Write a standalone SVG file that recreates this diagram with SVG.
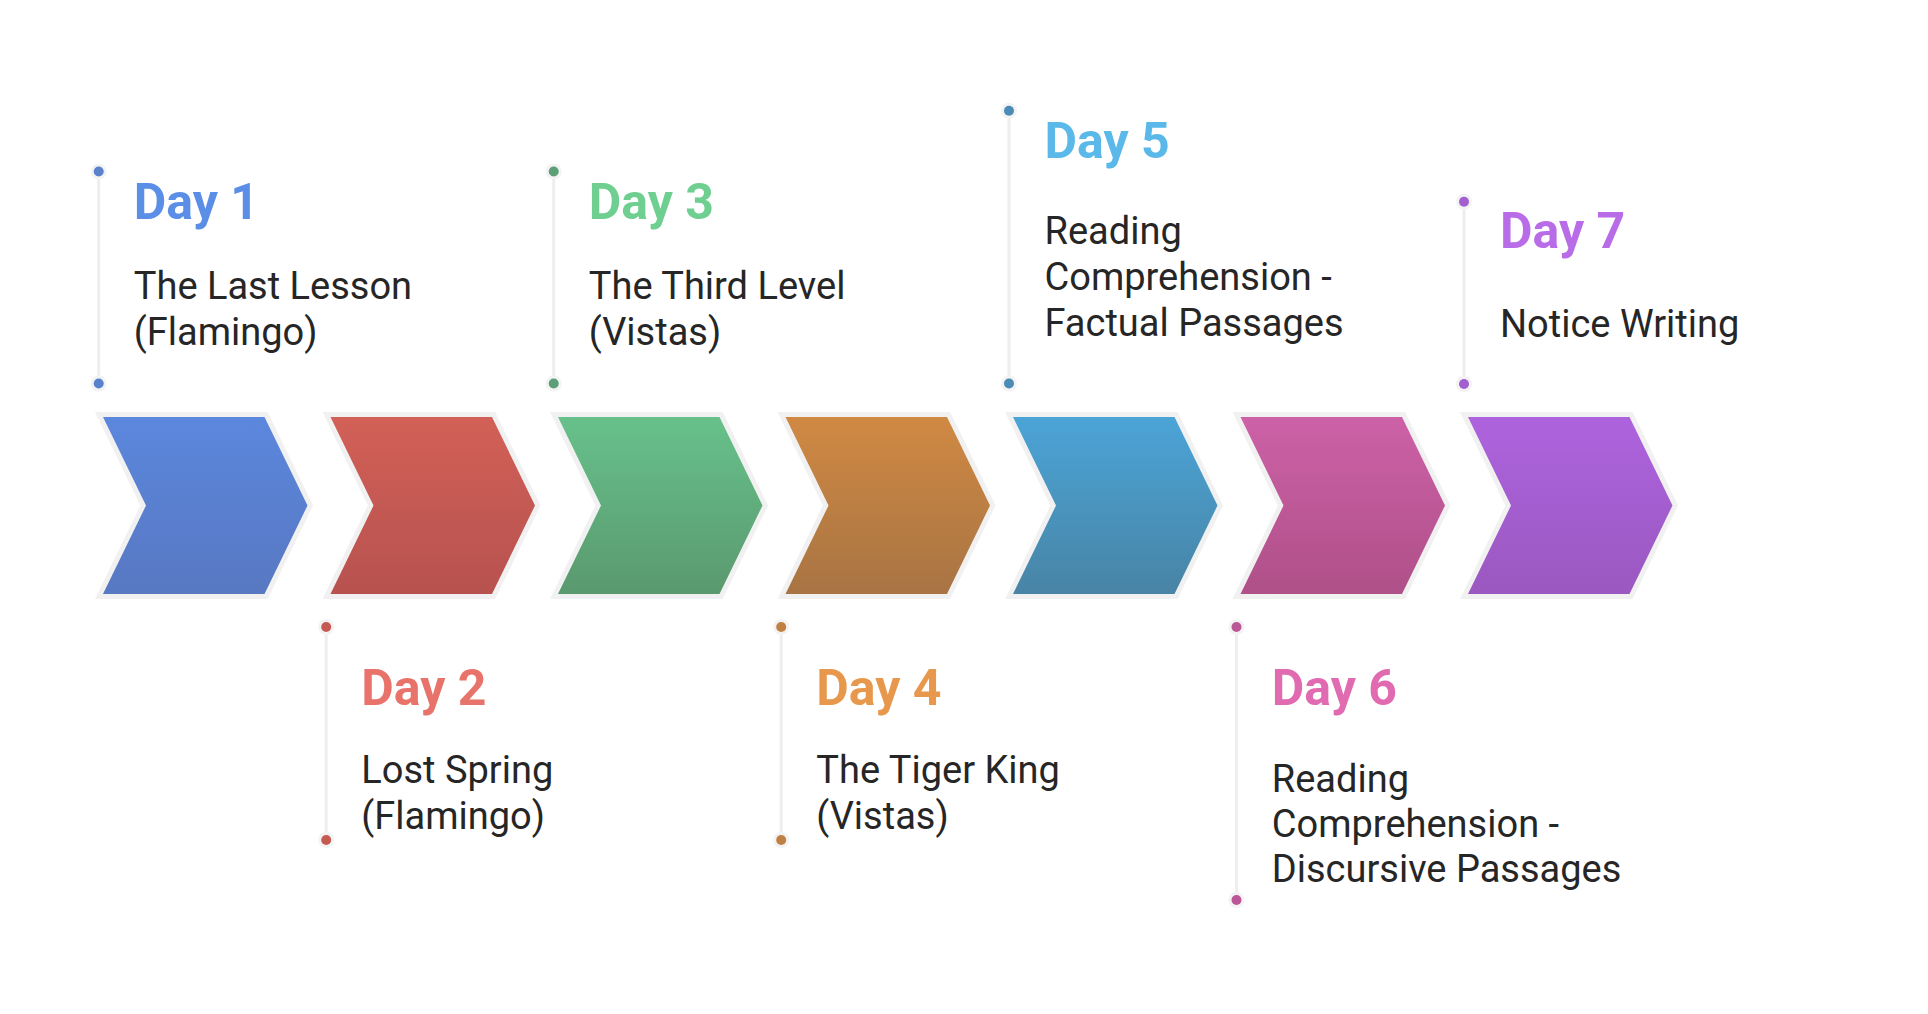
<svg xmlns="http://www.w3.org/2000/svg" width="1928" height="1014" viewBox="0 0 1928 1014">
  <defs>
    <style>
      .chev { stroke: #f1f1f1; stroke-width: 10; stroke-linejoin: miter; paint-order: stroke; }
      .vline { stroke: #eeeeee; stroke-width: 3; fill: none; }
      .halo { fill: #f3f3f3; }
      .head { font-family: Roboto, "Liberation Sans", sans-serif; font-weight: 700; font-size: 50px; }
      .body { font-family: Roboto, "Liberation Sans", sans-serif; font-weight: 400; font-size: 38px; fill: #262626; }
    </style>
    <linearGradient id="g1" x1="0" y1="0" x2="0" y2="1"><stop offset="0" stop-color="#5b87dd"/><stop offset="1" stop-color="#5878c2"/></linearGradient>
    <linearGradient id="g2" x1="0" y1="0" x2="0" y2="1"><stop offset="0" stop-color="#d26057"/><stop offset="1" stop-color="#b7524f"/></linearGradient>
    <linearGradient id="g3" x1="0" y1="0" x2="0" y2="1"><stop offset="0" stop-color="#67c18b"/><stop offset="1" stop-color="#5a996e"/></linearGradient>
    <linearGradient id="g4" x1="0" y1="0" x2="0" y2="1"><stop offset="0" stop-color="#d08943"/><stop offset="1" stop-color="#a87443"/></linearGradient>
    <linearGradient id="g5" x1="0" y1="0" x2="0" y2="1"><stop offset="0" stop-color="#4ba4d7"/><stop offset="1" stop-color="#4884a5"/></linearGradient>
    <linearGradient id="g6" x1="0" y1="0" x2="0" y2="1"><stop offset="0" stop-color="#cd61a7"/><stop offset="1" stop-color="#af5088"/></linearGradient>
    <linearGradient id="g7" x1="0" y1="0" x2="0" y2="1"><stop offset="0" stop-color="#ae63de"/><stop offset="1" stop-color="#9a58c0"/></linearGradient>
  </defs>
  <rect width="1928" height="1014" fill="#ffffff"/>

  <g id="connectors">
    <line class="vline" x1="98.7" y1="171.5" x2="98.7" y2="383.5"/>
    <line class="vline" x1="326.2" y1="627" x2="326.2" y2="840"/>
    <line class="vline" x1="553.7" y1="171.5" x2="553.7" y2="383.5"/>
    <line class="vline" x1="781.2" y1="627" x2="781.2" y2="840"/>
    <line class="vline" x1="1009" y1="110.7" x2="1009" y2="383.5"/>
    <line class="vline" x1="1236.5" y1="627" x2="1236.5" y2="900"/>
    <line class="vline" x1="1464" y1="201.7" x2="1464" y2="384"/>

    <circle class="halo" cx="98.7" cy="171.5" r="8"/><circle cx="98.7" cy="171.5" r="5" fill="#5a82cc"/>
    <circle class="halo" cx="98.7" cy="383.5" r="8"/><circle cx="98.7" cy="383.5" r="5" fill="#5a82cc"/>
    <circle class="halo" cx="326.2" cy="627" r="8"/><circle cx="326.2" cy="627" r="5" fill="#c55a53"/>
    <circle class="halo" cx="326.2" cy="840" r="8"/><circle cx="326.2" cy="840" r="5" fill="#c55a53"/>
    <circle class="halo" cx="553.7" cy="171.5" r="8"/><circle cx="553.7" cy="171.5" r="5" fill="#5c9e75"/>
    <circle class="halo" cx="553.7" cy="383.5" r="8"/><circle cx="553.7" cy="383.5" r="5" fill="#5c9e75"/>
    <circle class="halo" cx="781.2" cy="627" r="8"/><circle cx="781.2" cy="627" r="5" fill="#c18043"/>
    <circle class="halo" cx="781.2" cy="840" r="8"/><circle cx="781.2" cy="840" r="5" fill="#c18043"/>
    <circle class="halo" cx="1009" cy="110.7" r="8"/><circle cx="1009" cy="110.7" r="5" fill="#4a8cb6"/>
    <circle class="halo" cx="1009" cy="383.5" r="8"/><circle cx="1009" cy="383.5" r="5" fill="#4a8cb6"/>
    <circle class="halo" cx="1236.5" cy="627" r="8"/><circle cx="1236.5" cy="627" r="5" fill="#bb5797"/>
    <circle class="halo" cx="1236.5" cy="900" r="8"/><circle cx="1236.5" cy="900" r="5" fill="#bb5797"/>
    <circle class="halo" cx="1464" cy="201.7" r="8"/><circle cx="1464" cy="201.7" r="5" fill="#a35fcf"/>
    <circle class="halo" cx="1464" cy="384" r="8"/><circle cx="1464" cy="384" r="5" fill="#a35fcf"/>
  </g>

  <g id="day1">
    <polygon class="chev" fill="url(#g1)" points="103,417 264.5,417 307.5,505.5 264.5,594 103,594 146,505.5"/>
    <text class="head" x="133.8" y="219.3" fill="#5b8ee6">Day 1</text>
    <text class="body" x="133.8" y="299.3">The Last Lesson</text>
    <text class="body" x="133.8" y="345">(Flamingo)</text>
  </g>

  <g id="day2">
    <polygon class="chev" fill="url(#g2)" points="330.5,417 492,417 535,505.5 492,594 330.5,594 373.5,505.5"/>
    <text class="head" x="361.3" y="705" fill="#e8736a">Day 2</text>
    <text class="body" x="361.3" y="783">Lost Spring</text>
    <text class="body" x="361.3" y="829">(Flamingo)</text>
  </g>

  <g id="day3">
    <polygon class="chev" fill="url(#g3)" points="558,417 719.5,417 762.5,505.5 719.5,594 558,594 601,505.5"/>
    <text class="head" x="588.8" y="219.3" fill="#6fcf90">Day 3</text>
    <text class="body" x="588.8" y="299.3">The Third Level</text>
    <text class="body" x="588.8" y="345">(Vistas)</text>
  </g>

  <g id="day4">
    <polygon class="chev" fill="url(#g4)" points="785.5,417 947,417 990,505.5 947,594 785.5,594 828.5,505.5"/>
    <text class="head" x="816.3" y="705" fill="#e8984c">Day 4</text>
    <text class="body" x="816.3" y="783">The Tiger King</text>
    <text class="body" x="816.3" y="829">(Vistas)</text>
  </g>

  <g id="day5">
    <polygon class="chev" fill="url(#g5)" points="1013,417 1174.5,417 1217.5,505.5 1174.5,594 1013,594 1056,505.5"/>
    <text class="head" x="1044.5" y="158.3" fill="#5bb9ea">Day 5</text>
    <text class="body" x="1044.5" y="244">Reading</text>
    <text class="body" x="1044.5" y="290">Comprehension -</text>
    <text class="body" x="1044.5" y="335.5">Factual Passages</text>
  </g>

  <g id="day6">
    <polygon class="chev" fill="url(#g6)" points="1240.5,417 1402,417 1445,505.5 1402,594 1240.5,594 1283.5,505.5"/>
    <text class="head" x="1271.8" y="705" fill="#e06bb0">Day 6</text>
    <text class="body" x="1271.8" y="791.7">Reading</text>
    <text class="body" x="1271.8" y="836.7">Comprehension -</text>
    <text class="body" x="1271.8" y="881.7">Discursive Passages</text>
  </g>

  <g id="day7">
    <polygon class="chev" fill="url(#g7)" points="1468,417 1629.5,417 1672.5,505.5 1629.5,594 1468,594 1511,505.5"/>
    <text class="head" x="1500" y="248.3" fill="#b96ce8">Day 7</text>
    <text class="body" x="1500" y="336.7">Notice Writing</text>
  </g>
</svg>
